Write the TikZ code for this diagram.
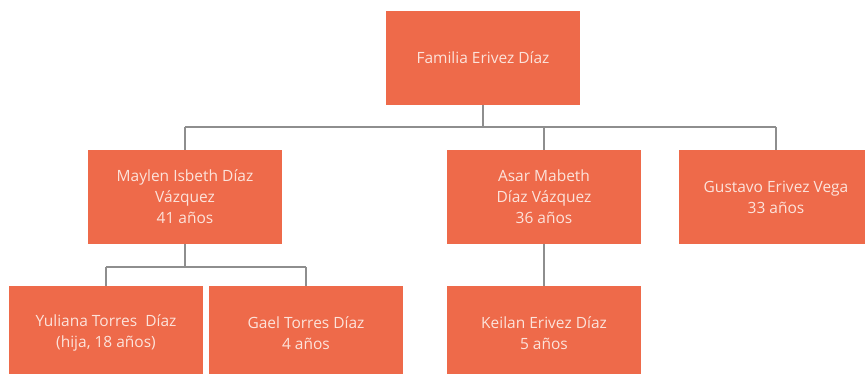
\documentclass[tikz,border=0pt]{standalone}
\usepackage{fontspec}
\setmainfont{Open Sans}
\definecolor{boxfill}{HTML}{EE6A4A}
\definecolor{boxtext}{HTML}{FCE3DB}
\definecolor{linkgray}{HTML}{8E8E8E}
\tikzset{
  member/.style={fill=boxfill, text=boxtext, minimum width=194pt, minimum height=94pt,
    inner sep=0pt, align=center, font=\fontsize{15.5}{21}\selectfont},
  link/.style={draw=linkgray, line width=1.2pt}
}
\begin{document}
\begin{tikzpicture}[x=1pt,y=-1pt]
        \clip (0,0) rectangle (865,373);

        % draw family boxes
        \node[member] (fam) at (483,58) {Familia Erivez Díaz};
        \node[member] (may) at (185,197) {Maylen Isbeth Díaz\\Vázquez\\41 años};
        \node[member] (asa) at (544,197) {Asar Mabeth\\Díaz Vázquez\\36 años};
        \node[member] (gus) at (776,197) {Gustavo Erivez Vega\\33 años};
        \node[member] (yul) at (106,333) {Yuliana Torres\ \ Díaz\\(hija, 18 años)};
        \node[member] (gae) at (306,333) {Gael Torres Díaz\\4 años};
        \node[member] (kei) at (544,333) {Keilan Erivez Díaz\\5 años};

        % draw branch points
        \coordinate (top) at (483,127);
        \coordinate (low) at (185,267);

        % draw connectors
        \draw[link] (fam.south) -- (top);
        \draw[link] (top -| may.north) -- (top -| gus.north);
        \foreach \n in {may,asa,gus}
          \draw[link] (top -| \n.north) -- (\n.north);
        \draw[link] (may.south) -- (low);
        \draw[link] (low -| yul.north) -- (low -| gae.north);
        \foreach \n in {yul,gae}
          \draw[link] (low -| \n.north) -- (\n.north);
        \draw[link] (asa.south) -- (kei.north);
\end{tikzpicture}
\end{document}
